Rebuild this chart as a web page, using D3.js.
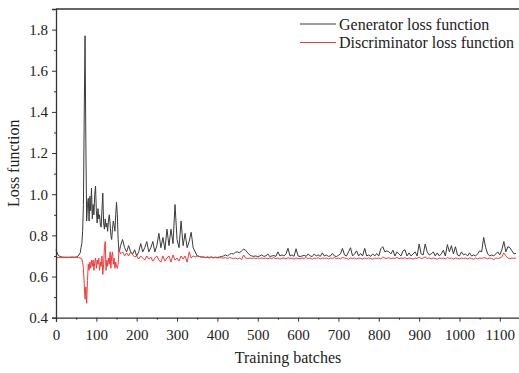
<!DOCTYPE html>
<html>
<head>
<meta charset="utf-8">
<script src="https://cdn.jsdelivr.net/npm/d3@7"></script>
<style>
  html, body { margin: 0; padding: 0; background: #fff; }
  svg { display: block; }
</style>
</head>
<body>
<svg id="chart" width="519" height="373"></svg>
<script>
// ---- Data ----
const seriesNames = ["Generator loss function", "Discriminator loss function"];
const xTickValues = [0, 100, 200, 300, 400, 500, 600, 700, 800, 900, 1000, 1100];
const yTickValues = [0.4, 0.6, 0.8, 1.0, 1.2, 1.4, 1.6, 1.8];

// training batch indices at which values were read
const batchesA = d3.range(0, 61, 5);      // 0..60
const batchesB = d3.range(62, 161, 2);    // 62..160
const batchesC = d3.range(165, 1141, 5);  // 165..1140
const batches = batchesA.concat(batchesB, batchesC);

const generatorLoss = [
  // 0..60
  0.73, 0.705, 0.697, 0.695, 0.694, 0.694, 0.694, 0.694, 0.695, 0.694, 0.695, 0.70, 0.715,
  // 62..160 step 2
  0.74, 0.76, 0.82, 0.95, 1.40, 1.77, 1.25, 0.87, 0.95, 0.98,
  0.87, 0.99, 0.92, 1.03, 0.88, 0.95, 0.90, 1.00, 1.04, 0.92,
  0.86, 0.93, 0.88, 0.90, 0.85, 0.84, 0.93, 1.005, 0.86, 0.83,
  0.88, 0.84, 0.86, 0.82, 0.87, 0.90, 0.86, 0.80, 0.78, 0.83,
  0.87, 0.85, 0.82, 0.90, 0.96, 0.90, 0.78, 0.72, 0.73, 0.75,
  // 165..1140 step 5
  0.78, 0.74, 0.72, 0.75, 0.72, 0.71, 0.73, 0.70, 0.72, 0.76,
  0.72, 0.74, 0.77, 0.72, 0.74, 0.77, 0.72, 0.75, 0.81, 0.74,
  0.79, 0.73, 0.83, 0.75, 0.83, 0.76, 0.95, 0.78, 0.74, 0.87,
  0.75, 0.81, 0.74, 0.77, 0.815, 0.74, 0.72, 0.70, 0.698, 0.695,
  0.695, 0.693, 0.695, 0.693, 0.695, 0.692, 0.694, 0.693, 0.695, 0.697,
  0.70, 0.705, 0.70, 0.708, 0.712, 0.71, 0.718, 0.72, 0.715, 0.725,
  0.733, 0.728, 0.715, 0.705, 0.70, 0.698, 0.70, 0.697, 0.70, 0.705,
  0.698, 0.70, 0.71, 0.697, 0.70, 0.702, 0.698, 0.72, 0.70, 0.705,
  0.70, 0.71, 0.737, 0.70, 0.705, 0.698, 0.735, 0.70, 0.697, 0.70,
  0.703, 0.698, 0.71, 0.70, 0.697, 0.71, 0.70, 0.705, 0.698, 0.715,
  0.70, 0.705, 0.698, 0.70, 0.712, 0.70, 0.697, 0.703, 0.71, 0.737,
  0.705, 0.70, 0.72, 0.74, 0.70, 0.71, 0.725, 0.70, 0.712, 0.70,
  0.737, 0.70, 0.705, 0.698, 0.71, 0.70, 0.712, 0.70, 0.735, 0.745,
  0.72, 0.725, 0.72, 0.71, 0.728, 0.70, 0.72, 0.71, 0.70, 0.725,
  0.73, 0.70, 0.715, 0.70, 0.71, 0.72, 0.70, 0.758, 0.71, 0.705,
  0.758, 0.72, 0.705, 0.71, 0.72, 0.70, 0.715, 0.70, 0.71, 0.728,
  0.70, 0.755, 0.72, 0.75, 0.71, 0.745, 0.705, 0.70, 0.72, 0.705,
  0.71, 0.70, 0.715, 0.70, 0.705, 0.70, 0.71, 0.725, 0.72, 0.79,
  0.74, 0.71, 0.70, 0.705, 0.70, 0.71, 0.72, 0.705, 0.73, 0.77,
  0.72, 0.745, 0.74, 0.725, 0.71, 0.712
];

const discriminatorLoss = [
  // 0..60
  0.692, 0.692, 0.692, 0.692, 0.692, 0.692, 0.692, 0.692, 0.692, 0.692, 0.692, 0.692, 0.69,
  // 62..160 step 2
  0.69, 0.685, 0.67, 0.64, 0.56, 0.49, 0.55, 0.47, 0.58, 0.66,
  0.63, 0.67, 0.64, 0.68, 0.65, 0.68, 0.63, 0.67, 0.69, 0.64,
  0.68, 0.66, 0.69, 0.63, 0.67, 0.65, 0.70, 0.61, 0.66, 0.74,
  0.77, 0.63, 0.68, 0.65, 0.69, 0.66, 0.72, 0.64, 0.70, 0.72,
  0.66, 0.69, 0.64, 0.67, 0.65, 0.64, 0.66, 0.73, 0.72, 0.71,
  // 165..1140 step 5
  0.72, 0.70, 0.715, 0.70, 0.72, 0.705, 0.695, 0.70, 0.685, 0.70,
  0.69, 0.68, 0.70, 0.685, 0.695, 0.675, 0.69, 0.70, 0.68, 0.67,
  0.70, 0.675, 0.69, 0.70, 0.67, 0.705, 0.68, 0.69, 0.675, 0.70,
  0.685, 0.70, 0.67, 0.72, 0.69, 0.70, 0.695, 0.70, 0.697, 0.695,
  0.695, 0.692, 0.693, 0.69, 0.695, 0.69, 0.693, 0.69, 0.692, 0.69,
  0.69, 0.692, 0.688, 0.692, 0.69, 0.687, 0.69, 0.685, 0.69, 0.682,
  0.705, 0.69, 0.688, 0.69, 0.688, 0.69, 0.687, 0.69, 0.688, 0.69,
  0.688, 0.69, 0.686, 0.69, 0.688, 0.692, 0.687, 0.69, 0.685, 0.689,
  0.69, 0.686, 0.692, 0.688, 0.69, 0.685, 0.69, 0.688, 0.686, 0.69,
  0.688, 0.692, 0.687, 0.69, 0.684, 0.69, 0.688, 0.691, 0.686, 0.69,
  0.688, 0.69, 0.685, 0.69, 0.688, 0.692, 0.687, 0.69, 0.686, 0.693,
  0.69, 0.688, 0.684, 0.69, 0.688, 0.69, 0.686, 0.69, 0.688, 0.685,
  0.69, 0.687, 0.69, 0.688, 0.684, 0.69, 0.688, 0.69, 0.686, 0.695,
  0.69, 0.688, 0.692, 0.686, 0.69, 0.688, 0.693, 0.687, 0.69, 0.688,
  0.692, 0.686, 0.69, 0.688, 0.685, 0.69, 0.688, 0.694, 0.687, 0.69,
  0.695, 0.688, 0.69, 0.686, 0.69, 0.688, 0.684, 0.69, 0.688, 0.69,
  0.686, 0.692, 0.688, 0.69, 0.685, 0.69, 0.688, 0.686, 0.69, 0.688,
  0.69, 0.686, 0.69, 0.688, 0.684, 0.69, 0.687, 0.69, 0.688, 0.692,
  0.69, 0.686, 0.69, 0.688, 0.682, 0.69, 0.688, 0.69, 0.695, 0.715,
  0.70, 0.69, 0.686, 0.69, 0.688, 0.69
];

// ---- Layout ----
const FONT = "'Liberation Serif', 'Times New Roman', Times, serif";
const svg = d3.select("#chart");
const plotL = 56, plotR = 520, plotT = 9, plotB = 317.7;
const colors = ["#3a3a3a", "#f23a3a"];

const x = d3.scaleLinear().domain([0, 1150]).range([plotL, plotR]);
const y = d3.scaleLinear().domain([0.4, 1.9]).range([plotB, plotT]);

const seriesData = [generatorLoss, discriminatorLoss];
const line = d3.line().x(d => x(d[0])).y(d => y(d[1]));

[0, 1].forEach(i => {
  const pts = batches.map((b, k) => [b, seriesData[i][k]]);
  svg.append("path")
    .datum(pts)
    .attr("fill", "none")
    .attr("stroke", colors[i])
    .attr("stroke-width", 1)
    .attr("stroke-linejoin", "round")
    .attr("d", line);
});

// top frame line
svg.append("line")
  .attr("x1", plotL).attr("x2", plotR)
  .attr("y1", plotT).attr("y2", plotT)
  .attr("stroke", "#333").attr("stroke-width", 1.3);

// x axis
const xAxis = d3.axisBottom(x).tickValues(xTickValues).tickSize(4).tickPadding(8).tickFormat(d3.format("d"));
const gx = svg.append("g").attr("transform", `translate(0,${plotB})`).call(xAxis);
gx.attr("font-family", null).attr("font-size", null);
gx.select(".domain").attr("stroke", "#333").attr("stroke-width", 1.3);
gx.selectAll(".tick line").attr("stroke", "#333");
gx.selectAll("text").style("font-family", FONT).style("font-size", "15px").attr("fill", "#222");
const gxm = svg.append("g").attr("transform", `translate(0,${plotB})`)
  .call(d3.axisBottom(x).tickValues(d3.range(50, 1150, 100)).tickSize(2).tickFormat(""));
gxm.select(".domain").remove();
gxm.selectAll(".tick line").attr("stroke", "#333");

// y axis
const yAxis = d3.axisLeft(y).tickValues(yTickValues).tickSize(4).tickPadding(4).tickFormat(d3.format(".1f"));
const gy = svg.append("g").attr("transform", `translate(${plotL},0)`).call(yAxis);
gy.attr("font-family", null).attr("font-size", null);
gy.select(".domain").attr("stroke", "#333").attr("stroke-width", 1.3);
gy.selectAll(".tick line").attr("stroke", "#333");
gy.selectAll("text").style("font-family", FONT).style("font-size", "15px").attr("fill", "#222");
const gym = svg.append("g").attr("transform", `translate(${plotL},0)`)
  .call(d3.axisLeft(y).tickValues([0.5, 0.7, 0.9, 1.1, 1.3, 1.5, 1.7]).tickSize(2).tickFormat(""));
gym.select(".domain").remove();
gym.selectAll(".tick line").attr("stroke", "#333");

// axis titles
svg.append("text")
  .attr("x", (plotL + plotR) / 2).attr("y", 363)
  .attr("text-anchor", "middle")
  .style("font-family", FONT).style("font-size", "16px").attr("fill", "#222")
  .text("Training batches");
svg.append("text")
  .attr("transform", `translate(19,${(plotT + plotB) / 2}) rotate(-90)`)
  .attr("text-anchor", "middle")
  .style("font-family", FONT).style("font-size", "16px").attr("fill", "#222")
  .text("Loss function");

// legend
const legendY = [24, 42.5];
seriesNames.forEach((name, i) => {
  svg.append("line")
    .attr("x1", 300).attr("x2", 336)
    .attr("y1", legendY[i]).attr("y2", legendY[i])
    .attr("stroke", colors[i]).attr("stroke-width", 1);
  svg.append("text")
    .attr("x", 339).attr("y", legendY[i] + 5.5)
    .style("font-family", FONT).style("font-size", "16px").attr("fill", "#222")
    .text(name);
});
</script>
</body>
</html>
